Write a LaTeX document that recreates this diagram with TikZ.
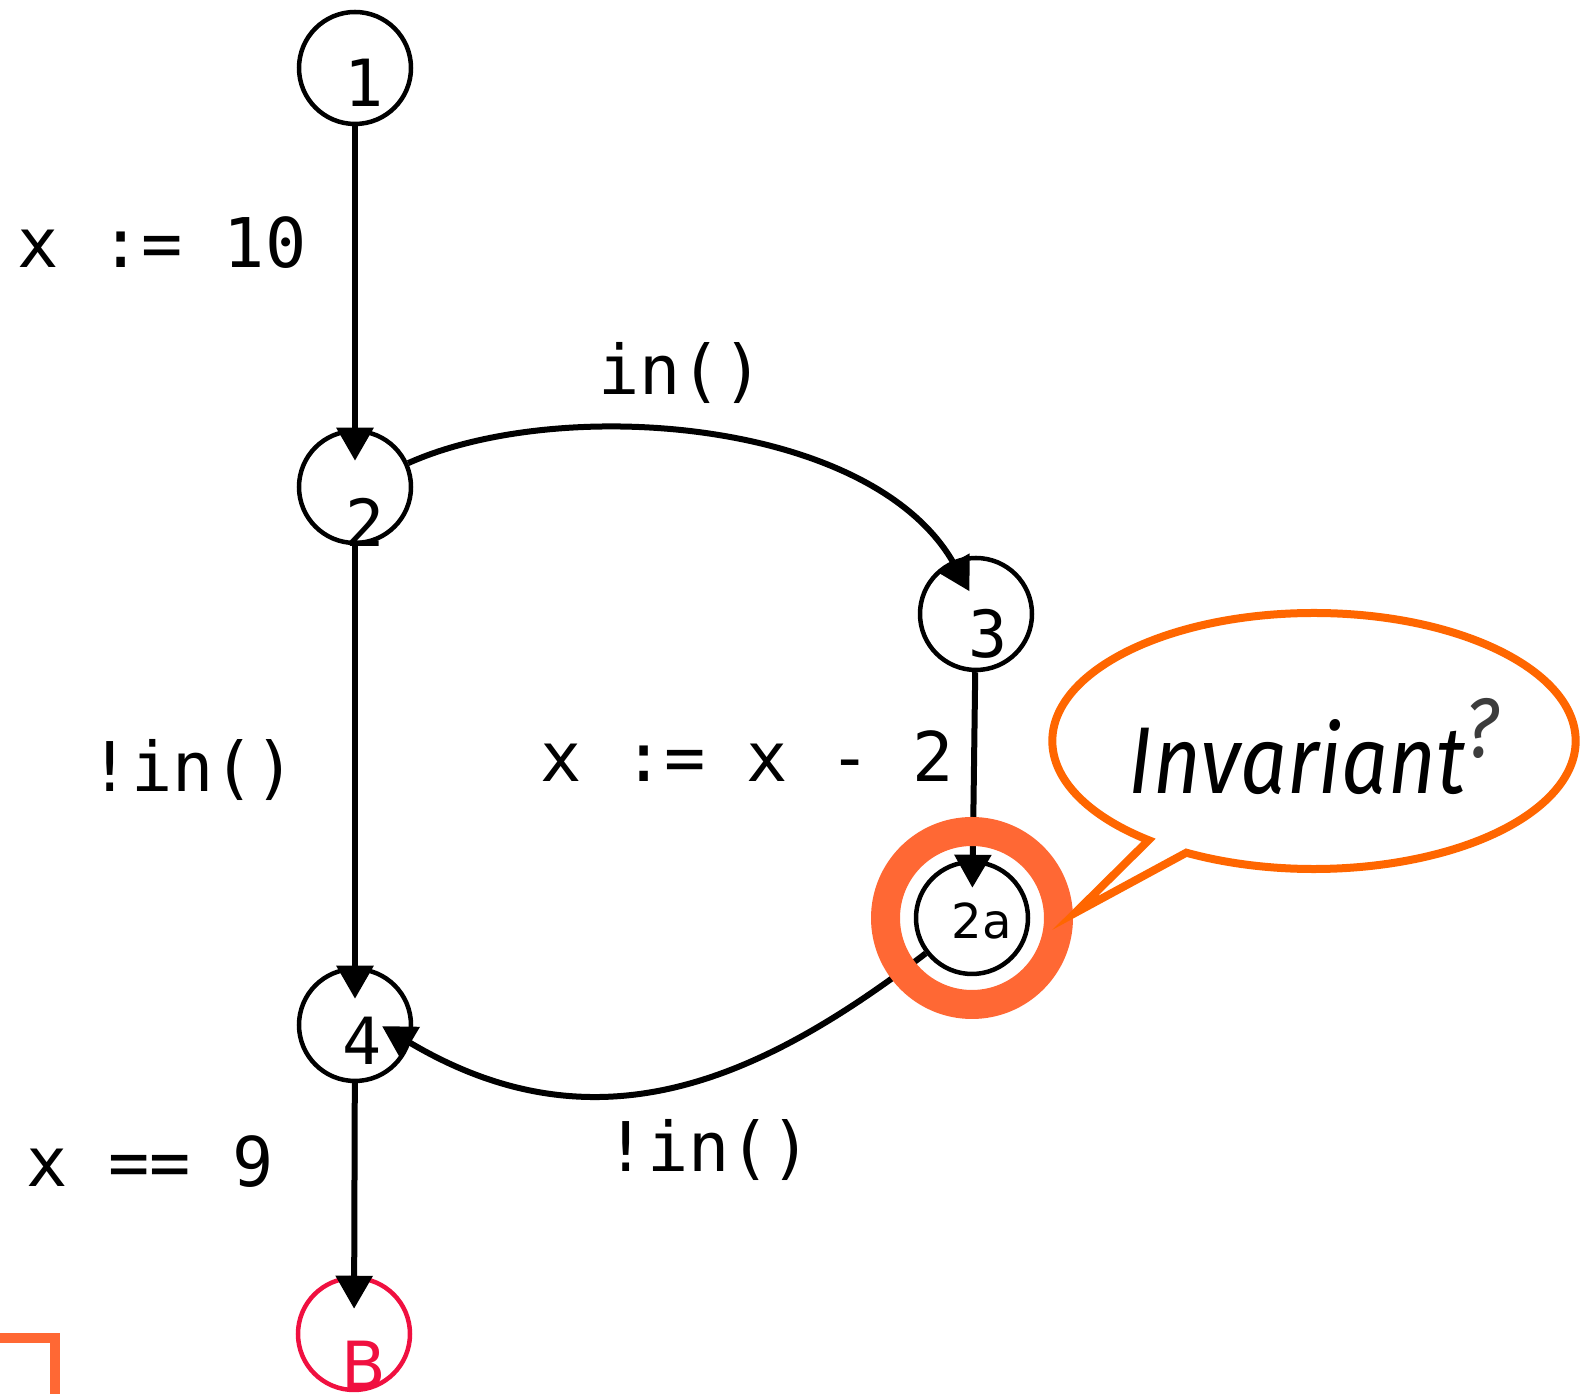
\documentclass[tikz,border=0pt]{standalone}
\usepackage{fontspec}
\setmainfont{DejaVu Sans}
\setsansfont{DejaVu Sans}
\setmonofont{DejaVu Sans Mono}
\newfontfamily\calloutfont[FakeStretch=0.87]{Fira Sans}
\usepackage{tikz}
\usetikzlibrary{arrows.meta, shapes.callouts}
\definecolor{ringorange}{RGB}{255,104,52}
\definecolor{calloutorange}{RGB}{255,102,0}
\definecolor{bred}{RGB}{240,16,64}
\definecolor{qgray}{RGB}{60,60,60}

\begin{document}
\begin{tikzpicture}[
  x=0.1mm, y=-0.1mm,
  state/.style={circle, draw, line width=0.45mm, minimum size=11.2mm, inner sep=0pt},
  num/.style={font=\fontsize{18.5}{22}\ttfamily, inner sep=0pt},
  code/.style={font=\fontsize{19.5}{23}\ttfamily, anchor=base, inner sep=0pt},
  arr/.style={-{Triangle[length=3.3mm, width=3.6mm]}, line width=0.6mm, shorten >=-2.8mm},
  ring/.style={circle, draw=ringorange, line width=2.9mm, minimum size=17.3mm, inner sep=0pt},
]
  \useasboundingbox (0,0) rectangle (1588,1394);

  % States
  \node[state, label={[num, xshift=0.9mm, yshift=-1.5mm]center:1}] (n1) at (355,68) {};
  \node[state, label={[num, xshift=1.0mm, yshift=-3.5mm]center:2}] (n2) at (355,487) {};
  \node[state, label={[num, xshift=1.2mm, yshift=-1.95mm]center:3}] (n3) at (976,614) {};
  \node[state, label={[font=\fontsize{13.7}{16}\sffamily, inner sep=0pt, xshift=1.0mm, yshift=-0.25mm]center:2a}] (n2a) at (972,918) {};
  \node[state, label={[num, xshift=0.75mm, yshift=-1.55mm]center:4}] (n4) at (355,1025) {};
  \node[state, draw=bred, label={[font=\fontsize{18.5}{22}\sffamily, text=bred, inner sep=0pt, xshift=0.95mm, yshift=-3.1mm]center:B}] (nB) at (354,1334) {};

  % Transitions
  \draw[arr, shorten >=-3.2mm] (n1) -- (n2);
  \draw[arr, shorten >=-3.5mm] (n2) .. controls (560,395) and (872,418) .. (n3.114);
  \draw[arr, shorten >=-3.2mm] (n2) -- (n4);
  \draw[arr] (n3) -- (n2a);
  \draw[arr, shorten >=-3.3mm] (n2a) .. controls (760,1080) and (597,1154) .. (n4.-18);
  \draw[arr, shorten >=-3.3mm] (n4) -- (nB);

  % Edge labels
  \node[code] (l12) at (162,268) {x := 10};
  \node[code] (l23) at (681,395) {in()};
  \node[code] (l24) at (193,792) {!in()};
  \node[code] (l32a) at (747,782) {x := x - 2};
  \node[code] (l2a4) at (709,1172) {!in()};
  \node[code] (l4B) at (150,1187) {x == 9};

  % Highlight and callout
  \node[ring] (hl) at (n2a.center) {};
  \node[ellipse callout, draw=calloutorange, line width=0.8mm, fill=white,
        minimum width=51mm, minimum height=25.6mm, inner sep=0pt,
        callout absolute pointer={(1075,913)}, callout pointer arc=10] (inv) at (1314,741)
    {\rule{0pt}{10.6mm}\fontsize{27}{30}\calloutfont\itshape Invariant\raisebox{3.6mm}{\fontsize{24}{28}\selectfont\color{qgray}?}};

  % Corner mark
  \draw[ringorange, line width=1mm] (-10,1338) -- (55,1338) -- (55,1404);
\end{tikzpicture}
\end{document}
